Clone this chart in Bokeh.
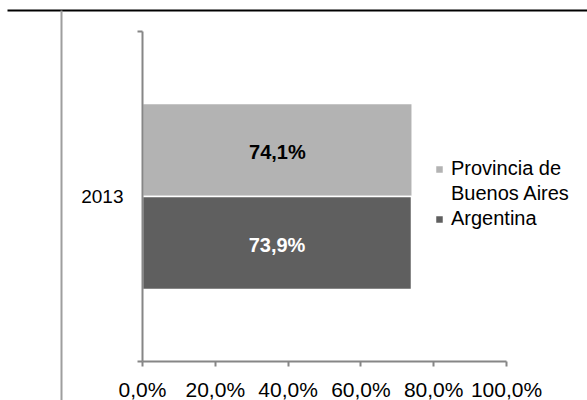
from bokeh.plotting import figure
from bokeh.models import (ColumnDataSource, Range1d, LinearAxis,
                          FixedTicker, Legend, LegendItem, BoxAnnotation)
from bokeh.transform import dodge
from bokeh.core.properties import value
from bokeh.embed import file_html
from bokeh.resources import INLINE

# ---- data ----
categories = ["2013"]
series_names = ["Provincia de Buenos Aires", "Argentina"]
provincia = [74.1]
argentina = [73.9]
provincia_labels = ["74,1%"]
argentina_labels = ["73,9%"]
x_ticks = [0, 20, 40, 60, 80, 100]
x_tick_labels = ["0,0%", "20,0%", "40,0%", "60,0%", "80,0%", "100,0%"]

# ---- layout / style constants ----
W, H = 587, 400
PLOT_LEFT, PLOT_RIGHT = 142, 506      # px of 0% and 100%
PLOT_TOP, PLOT_BOTTOM = 31, 361       # px of category band edges
FONT = "Liberation Sans"
AXIS_COLOR = "#868686"
LIGHT = "#B3B3B3"
DARK = "#5F5F5F"

pxu = (PLOT_RIGHT - PLOT_LEFT) / 100.0
cat_px = (PLOT_BOTTOM - PLOT_TOP) / len(categories)

cat_pos = [i + 0.5 for i in range(len(categories))]
cat_edges = [i for i in range(len(categories) + 1)]

src = ColumnDataSource(dict(
    pos=cat_pos,
    prov=provincia,
    arg=argentina,
    prov_mid=[v / 2 for v in provincia],
    arg_mid=[v / 2 for v in argentina],
    prov_lbl=provincia_labels,
    arg_lbl=argentina_labels,
))

p = figure(width=W, height=H,
           x_range=Range1d(-PLOT_LEFT / pxu, (W - PLOT_LEFT) / pxu),
           y_range=Range1d(-(H - PLOT_BOTTOM) / cat_px, len(categories) + PLOT_TOP / cat_px),
           output_backend="svg", toolbar_location=None,
           x_axis_location=None, y_axis_location=None,
           min_border=0)
p.outline_line_color = None
p.xgrid.visible = False
p.ygrid.visible = False
p.background_fill_color = "white"
p.border_fill_color = "white"

# x axis
xaxis = LinearAxis(ticker=FixedTicker(ticks=x_ticks), bounds=(0, 100), fixed_location=0,
                   major_label_overrides={t: l for t, l in zip(x_ticks, x_tick_labels)},
                   axis_line_color=AXIS_COLOR, axis_line_width=2,
                   major_tick_line_color=AXIS_COLOR, major_tick_line_width=2,
                   major_tick_out=5, major_tick_in=0,
                   minor_tick_out=0, minor_tick_in=0,
                   major_label_standoff=11,
                   major_label_text_font=FONT, major_label_text_font_size="21px",
                   major_label_text_color="black")
p.add_layout(xaxis, "below")

# y axis: line with ticks at category edges
yedge = LinearAxis(ticker=FixedTicker(ticks=cat_edges), fixed_location=0,
                   bounds=(0, len(categories)),
                   major_label_overrides={e: "" for e in cat_edges},
                   axis_line_color=AXIS_COLOR, axis_line_width=2,
                   major_tick_line_color=AXIS_COLOR, major_tick_line_width=2,
                   major_tick_out=5, major_tick_in=0,
                   minor_tick_out=0, minor_tick_in=0,
                   major_label_standoff=0)
p.add_layout(yedge, "left")

# y axis: category names at category centres
ycat = LinearAxis(ticker=FixedTicker(ticks=cat_pos), fixed_location=0,
                  major_label_overrides={c: n for c, n in zip(cat_pos, categories)},
                  axis_line_color=None, major_tick_line_color=None,
                  major_tick_out=0, major_tick_in=0,
                  minor_tick_out=0, minor_tick_in=0,
                  major_label_standoff=19,
                  major_label_text_font=FONT, major_label_text_font_size="19px",
                  major_label_text_color="black")
p.add_layout(ycat, "left")

# bars
r1 = p.hbar(y=dodge("pos", 0.1409), left=0, right="prov", height=0.2818,
            fill_color=LIGHT, line_color="white", line_width=1.5, source=src)
r2 = p.hbar(y=dodge("pos", -0.1409), left=0, right="arg", height=0.2818,
            fill_color=DARK, line_color="white", line_width=1.5, source=src)
# invisible renderer for the wrapped second line of the first legend entry
r_wrap = p.hbar(y=[], left=[], right=[], height=0.1, fill_alpha=0, line_alpha=0)

p.text(x="prov_mid", y=dodge("pos", 0.1409), text="prov_lbl", source=src,
       text_align="center", text_baseline="middle", y_offset=2,
       text_font=value(FONT), text_font_style="bold", text_font_size="20px", text_color="black")
p.text(x="arg_mid", y=dodge("pos", -0.1409), text="arg_lbl", source=src,
       text_align="center", text_baseline="middle", y_offset=2,
       text_font=value(FONT), text_font_style="bold", text_font_size="20px", text_color="white")

name_line1, name_line2 = series_names[0].rsplit(" ", 2)[0], " ".join(series_names[0].split(" ")[-2:])
legend = Legend(items=[LegendItem(label=name_line1, renderers=[r1]),
                       LegendItem(label=name_line2, renderers=[r_wrap]),
                       LegendItem(label=series_names[1], renderers=[r2])],
                location=(434, 170), border_line_color=None, background_fill_alpha=0,
                glyph_width=10, glyph_height=10, label_standoff=7, padding=0, margin=0,
                spacing=2, label_height=20, label_text_font=FONT, label_text_font_size="20px",
                label_text_color="black")
p.add_layout(legend, "center")

# frame lines of the original chart area (screen units: from left / from bottom)
p.add_layout(BoxAnnotation(left=7, right=W, top=H - 9, bottom=H - 11,
                           left_units="screen", right_units="screen",
                           top_units="screen", bottom_units="screen",
                           fill_color="black", fill_alpha=1, line_color=None, level="underlay"))
p.add_layout(BoxAnnotation(left=60, right=62, top=H - 10, bottom=0,
                           left_units="screen", right_units="screen",
                           top_units="screen", bottom_units="screen",
                           fill_color="#9E9E9E", fill_alpha=1, line_color=None, level="underlay"))

open("out.html", "w").write(file_html(p, INLINE))
